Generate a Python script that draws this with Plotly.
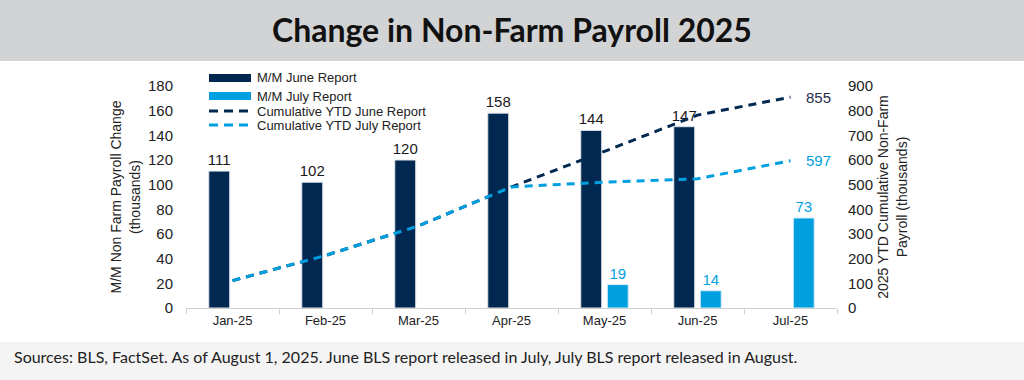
import plotly.graph_objects as go

months = ["Jan-25", "Feb-25", "Mar-25", "Apr-25", "May-25", "Jun-25", "Jul-25"]
mm_june = [111, 102, 120, 158, 144, 147, None]
mm_july = [None, None, None, None, 19, 14, 73]
cum_june = [111, 213, 333, 491, 635, 782, 855]
cum_july = [111, 213, 333, 491, 510, 524, 597]
legend_names = ["M/M June Report", "M/M July Report",
                "Cumulative YTD June Report", "Cumulative YTD July Report"]

NAVY = "#002851"
BLUE = "#009fe0"
FONT = "Liberation Sans"

L, R, T, B = 186, 187, 86, 72
W, H = 1024, 380
pw = W - L - R
ph = H - T - B

def px(x):
    return (x - L) / pw

def py(y):
    return (H - B - y) / ph

fig = go.Figure()
fig.add_trace(go.Bar(
    x=months, y=mm_june, name=legend_names[0],
    marker=dict(color=NAVY, line=dict(color="#dfe3ea", width=1)),
    text=[str(v) if v is not None else "" for v in mm_june],
    textposition="outside", constraintext="none",
    textfont=dict(color="#1a1a1a", size=15, family=FONT),
    cliponaxis=False,
))
fig.add_trace(go.Bar(
    x=months, y=mm_july, name=legend_names[1],
    marker=dict(color=BLUE, line=dict(color="#dfeef8", width=1)),
    text=[str(v) if v is not None else "" for v in mm_july],
    textposition="outside", constraintext="none",
    textfont=dict(color=BLUE, size=15, family=FONT),
    cliponaxis=False,
))
fig.add_trace(go.Scatter(
    x=months, y=cum_june, name=legend_names[2], yaxis="y2",
    mode="lines", line=dict(color=NAVY, width=3, dash="8px,6px"),
))
fig.add_trace(go.Scatter(
    x=months, y=cum_july, name=legend_names[3], yaxis="y2",
    mode="lines", line=dict(color=BLUE, width=3, dash="8px,6px"),
))

# end labels for cumulative lines
fig.add_annotation(x=months[-1], y=cum_june[-1], yref="y2", text=str(cum_june[-1]),
                   showarrow=False, xanchor="left", xshift=13,
                   font=dict(color="#1f2d4a", size=15, family=FONT))
fig.add_annotation(x=months[-1], y=cum_july[-1], yref="y2", text=str(cum_july[-1]),
                   showarrow=False, xanchor="left", xshift=13,
                   font=dict(color=BLUE, size=15, family=FONT))

# title band and footer band
fig.add_shape(type="rect", xref="paper", yref="paper", x0=px(0), x1=px(W), y0=py(61), y1=py(0),
              fillcolor="#d2d3d5", line=dict(width=0), layer="below")
fig.add_shape(type="rect", xref="paper", yref="paper", x0=px(0), x1=px(W), y0=py(H), y1=py(342),
              fillcolor="#f4f4f4", line=dict(width=0), layer="below")
fig.add_annotation(xref="paper", yref="paper", x=0.5, y=py(30), text="<b>Change in Non-Farm Payroll 2025</b>",
                   showarrow=False, xanchor="center", yanchor="middle",
                   font=dict(size=32, color="#111111", family="Lato"))
fig.add_annotation(xref="paper", yref="paper", x=px(12), y=py(356),
                   text="Sources: BLS, FactSet. As of August 1, 2025. June BLS report released in July, July BLS report released in August.",
                   showarrow=False, xanchor="left", yanchor="middle",
                   font=dict(size=16, color="#222222", family="Lato"))

# manual legend (compact, like the reference)
leg_y = [78, 96, 111, 125]
sx0, sx1, tx = 209, 251, 255
for i, name in enumerate(legend_names):
    yc = leg_y[i]
    if i < 2:
        fig.add_shape(type="rect", xref="paper", yref="paper",
                      x0=px(sx0), x1=px(sx1), y0=py(yc + 4), y1=py(yc - 4),
                      fillcolor=NAVY if i == 0 else BLUE, line=dict(width=0))
    else:
        fig.add_shape(type="line", xref="paper", yref="paper",
                      x0=px(sx0), x1=px(sx1), y0=py(yc), y1=py(yc),
                      line=dict(color=NAVY if i == 2 else BLUE, width=3, dash="9px,6px"))
    fig.add_annotation(xref="paper", yref="paper", x=px(tx), y=py(yc), text=name,
                       showarrow=False, xanchor="left", yanchor="middle",
                       font=dict(size=13, family=FONT, color="#222222"))

fig.update_layout(
    width=W, height=H,
    margin=dict(l=L, r=R, t=T, b=B, pad=0, autoexpand=False),
    paper_bgcolor="white", plot_bgcolor="white",
    barmode="group", bargap=0.43, bargroupgap=0.21,
    font=dict(family=FONT, size=13, color="#222222"),
    showlegend=False,
    xaxis=dict(type="category", range=[-0.5, len(months) - 0.5], autorange=False,
               showline=True, linecolor="#d0d0d0", linewidth=1,
               ticks="outside", tickson="boundaries", ticklen=5, tickcolor="#d0d0d0",
               automargin=False,
               tickfont=dict(size=13, family=FONT, color="#222222"), showgrid=False),
    yaxis=dict(range=[0, 180], dtick=20, showgrid=False, zeroline=False, showline=False,
               ticks="", ticklabelstandoff=12, automargin=False,
               tickfont=dict(size=15, family=FONT, color="#222222"),
               title=dict(text="M/M Non Farm Payroll Change<br>(thousands)", standoff=4,
                          font=dict(size=14, family=FONT, color="#222222"))),
    yaxis2=dict(range=[0, 900], dtick=100, overlaying="y", side="right", showgrid=False,
                zeroline=False, showline=False, ticks="", ticklabelstandoff=10,
                automargin=False,
                tickfont=dict(size=15, family=FONT, color="#222222"),
                title=dict(text="2025 YTD Cumulative Non-Farm<br>Payroll (thousands)", standoff=6,
                           font=dict(size=14, family=FONT, color="#222222"))),
)

fig.write_html("out.html", config={"displayModeBar": False},
               post_script="document.body.style.margin='0';")
